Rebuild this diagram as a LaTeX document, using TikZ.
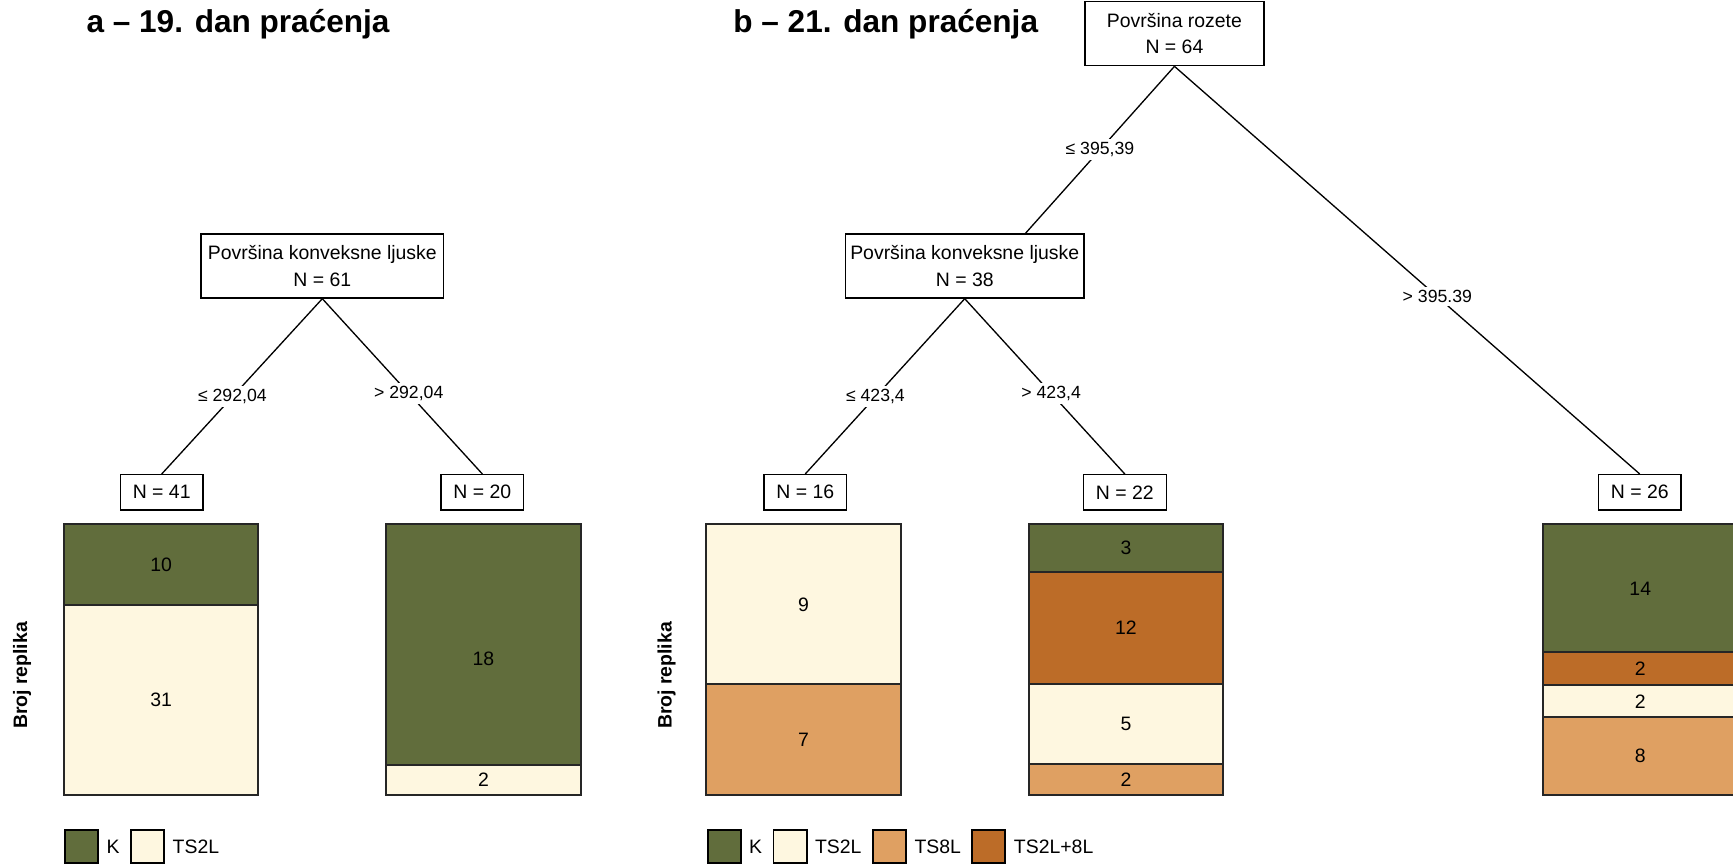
\documentclass[tikz,border=0pt]{standalone}
\usepackage{fontspec}
\setmainfont{Liberation Sans}
\usepackage{tikz}
\usetikzlibrary{positioning}

\definecolor{colK}{HTML}{616D3C}
\definecolor{colTSa}{HTML}{FEF7E0}
\definecolor{colTSb}{HTML}{DFA062}
\definecolor{colTSc}{HTML}{BC6C28}

\tikzset{
  split/.style={shape=rectangle,draw=black,fill=white,align=center,inner sep=0pt,
    minimum height=29pt,line width=0.6pt,font=\fontsize{8.8}{12}\selectfont},
  leaf/.style={shape=rectangle,draw=black,fill=white,inner sep=0pt,
    minimum width=37.5pt,minimum height=16pt,line width=0.6pt,font=\fontsize{8.8}{10}\selectfont},
  cut/.style={fill=white,inner sep=1.5pt,font=\fontsize{8}{9}\selectfont},
  branch/.style={draw=black,line width=0.6pt},
  seg/.style={draw=black!85,line width=0.9pt},
  cnt/.style={font=\fontsize{8.8}{10}\selectfont},
  ttl/.style={anchor=west,inner sep=0pt,font=\fontsize{14.3}{16}\selectfont\bfseries},
  yname/.style={rotate=90,inner sep=0pt,font=\fontsize{8.8}{10}\selectfont\bfseries},
  key/.style={shape=rectangle,draw=black,line width=0.9pt,minimum size=15pt,inner sep=0pt},
  keytxt/.style={inner sep=0pt,font=\fontsize{8.8}{10}\selectfont}
}

\begin{document}
\begin{tikzpicture}[x=0.5pt,y=-0.5pt]
        \clip (0,0) rectangle (1570,782);

        % panel a
        \node[ttl] (ttla) at (78,22) {a – 19. dan praćenja};
        \node[split,minimum width=110pt] (rootA) at (292,241) {Površina konveksne ljuske\\N = 61};
        \node[leaf] (nA41) at (146.5,446) {N = 41};
        \node[leaf] (nA20) at (437,446) {N = 20};

        \path[branch] (rootA.south) -- (nA41.north) node[cut,pos=0.56] (cA1) {≤ 292,04};
        \path[branch] (rootA.south) -- (nA20.north) node[cut,pos=0.54] (cA2) {> 292,04};

        \draw[seg,fill=colK]   (58,475) rectangle (234,548);
        \draw[seg,fill=colTSa] (58,548) rectangle (234,720);
        \node[cnt] (bA1) at (146,511.5) {10};
        \node[cnt] (bA2) at (146,634) {31};

        \draw[seg,fill=colK]   (350,475) rectangle (526,693);
        \draw[seg,fill=colTSa] (350,693) rectangle (526,720);
        \node[cnt] (bA3) at (438,597) {18};
        \node[cnt] (bA4) at (438,706.5) {2};

        \node[yname] (yA) at (20,612) {Broj replika};

        \node[key,fill=colK] (kA1) at (74,767) {};
        \node[keytxt,right=3.2pt of kA1] (tA1) {K};
        \node[key,fill=colTSa,right=4.5pt of tA1] (kA2) {};
        \node[keytxt,right=3.2pt of kA2] (tA2) {TS2L};

        % panel b
        \node[ttl] (ttlb) at (664,22) {b – 21. dan praćenja};
        \node[split,minimum width=81pt] (rootB) at (1064,30.5) {Površina rozete\\N = 64};
        \node[split,minimum width=108pt] (nB38) at (874,241) {Površina konveksne ljuske\\N = 38};
        \node[leaf] (nB16) at (729.5,446) {N = 16};
        \node[leaf] (nB22) at (1019,446) {N = 22};
        \node[leaf] (nB26) at (1485.5,446) {N = 26};

        \path[branch] (rootB.south) -- ([xshift=27.5pt]nB38.north) node[cut,pos=0.5] (cB1) {≤ 395,39};
        \path[branch] (rootB.south) -- (nB26.north) node[cut,pos=0.565] (cB2) {> 395.39};
        \path[branch] (nB38.south) -- (nB16.north) node[cut,pos=0.56] (cB3) {≤ 423,4};
        \path[branch] (nB38.south) -- (nB22.north) node[cut,pos=0.54] (cB4) {> 423,4};

        \draw[seg,fill=colTSa] (640,475) rectangle (816,620);
        \draw[seg,fill=colTSb] (640,620) rectangle (816,720);
        \node[cnt] (bB1) at (728,547.5) {9};
        \node[cnt] (bB2) at (728,670) {7};

        \draw[seg,fill=colK]   (932,475) rectangle (1108,518);
        \draw[seg,fill=colTSc] (932,518) rectangle (1108,620);
        \draw[seg,fill=colTSa] (932,620) rectangle (1108,692);
        \draw[seg,fill=colTSb] (932,692) rectangle (1108,720);
        \node[cnt] (bB3) at (1020,496.5) {3};
        \node[cnt] (bB4) at (1020,569) {12};
        \node[cnt] (bB5) at (1020,656) {5};
        \node[cnt] (bB6) at (1020,706) {2};

        \draw[seg,fill=colK]   (1398,475) rectangle (1574,591);
        \draw[seg,fill=colTSc] (1398,591) rectangle (1574,621);
        \draw[seg,fill=colTSa] (1398,621) rectangle (1574,650);
        \draw[seg,fill=colTSb] (1398,650) rectangle (1574,720);
        \node[cnt] (bB7) at (1486,533) {14};
        \node[cnt] (bB8) at (1486,606) {2};
        \node[cnt] (bB9) at (1486,635.5) {2};
        \node[cnt] (bB10) at (1486,685) {8};

        \node[yname] (yB) at (604,612) {Broj replika};

        \node[key,fill=colK] (kB1) at (656,767) {};
        \node[keytxt,right=3.2pt of kB1] (tB1) {K};
        \node[key,fill=colTSa,right=4.5pt of tB1] (kB2) {};
        \node[keytxt,right=3.2pt of kB2] (tB2) {TS2L};
        \node[key,fill=colTSb,right=4.5pt of tB2] (kB3) {};
        \node[keytxt,right=3.2pt of kB3] (tB3) {TS8L};
        \node[key,fill=colTSc,right=4.5pt of tB3] (kB4) {};
        \node[keytxt,right=3.2pt of kB4] (tB4) {TS2L+8L};
    \end{tikzpicture}
\end{document}
